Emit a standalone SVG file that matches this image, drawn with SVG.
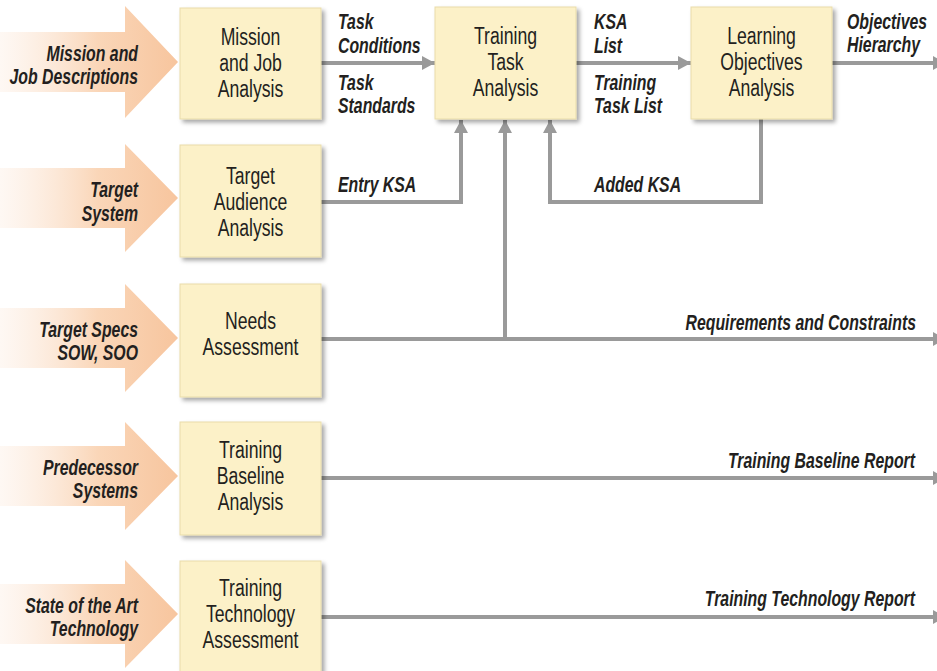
<svg xmlns="http://www.w3.org/2000/svg" width="937" height="671" viewBox="0 0 937 671">
  <defs>
    <linearGradient id="inGrad" gradientUnits="userSpaceOnUse" x1="0" y1="0" x2="178" y2="0">
      <stop offset="0" stop-color="#fdf1e8" stop-opacity="0.5"/>
      <stop offset="0.55" stop-color="#fad6b8"/>
      <stop offset="1" stop-color="#f7c59e"/>
    </linearGradient>
    <filter id="shadow" x="-10%" y="-10%" width="130%" height="130%">
      <feDropShadow dx="3" dy="3" stdDeviation="2" flood-color="#000" flood-opacity="0.35"/>
    </filter>
    <marker id="head" markerUnits="userSpaceOnUse" markerWidth="13" markerHeight="14" refX="13" refY="7" orient="auto">
      <path d="M0,0 L13,7 L0,14 z" fill="#9a9a9a"/>
    </marker>
  </defs>
  <style>
    .box { fill: #fcf1c8; stroke: #e9dcaa; stroke-width: 1; filter: url(#shadow); }
    .in { fill: url(#inGrad); }
    .btxt { font-family: "Liberation Sans", Arial, sans-serif; font-size: 24.5px; fill: #231f20; text-anchor: middle; }
    .lbl { font-family: "Liberation Sans", Arial, sans-serif; font-size: 22px; font-weight: bold; font-style: italic; fill: #231f20; }
    .end { text-anchor: end; }
    .conn { fill: none; stroke: #9a9a9a; stroke-width: 4; }
    .arr { marker-end: url(#head); }
  </style>

  <rect width="937" height="671" fill="#ffffff"/>

  <!-- input arrows on the left -->
  <g id="in-mission">
    <path class="in" d="M0,32 H125 V6 L178,62 L125,118 V92 H0 z"/>
    <text class="lbl end" transform="translate(138,0) scale(0.72,1)"><tspan x="0" y="61">Mission and</tspan><tspan x="0" y="84">Job Descriptions</tspan></text>
  </g>
  <g id="in-target">
    <path class="in" d="M0,168 H125 V144 L178,198 L125,252 V228 H0 z"/>
    <text class="lbl end" transform="translate(138,0) scale(0.72,1)"><tspan x="0" y="197">Target</tspan><tspan x="0" y="221">System</tspan></text>
  </g>
  <g id="in-specs">
    <path class="in" d="M0,308 H125 V284 L178,338 L125,392 V368 H0 z"/>
    <text class="lbl end" transform="translate(138,0) scale(0.72,1)"><tspan x="0" y="337">Target Specs</tspan><tspan x="0" y="360">SOW, SOO</tspan></text>
  </g>
  <g id="in-predecessor">
    <path class="in" d="M0,446 H125 V422 L178,476 L125,530 V506 H0 z"/>
    <text class="lbl end" transform="translate(138,0) scale(0.72,1)"><tspan x="0" y="475">Predecessor</tspan><tspan x="0" y="498">Systems</tspan></text>
  </g>
  <g id="in-state">
    <path class="in" d="M0,584 H125 V560 L178,614 L125,668 V644 H0 z"/>
    <text class="lbl end" transform="translate(138,0) scale(0.72,1)"><tspan x="0" y="613">State of the Art</tspan><tspan x="0" y="636">Technology</tspan></text>
  </g>

  <!-- connectors -->
  <g id="connectors">
    <path class="conn arr" d="M321,63 H435"/>
    <path class="conn arr" d="M576,63 H691"/>
    <path class="conn arr" d="M832,63 H946"/>
    <path class="conn arr" d="M321,202 H461 V120"/>
    <path class="conn arr" d="M505,339 V120"/>
    <path class="conn arr" d="M761,119 V202 H550 V120"/>
    <path class="conn arr" d="M321,339 H946"/>
    <path class="conn arr" d="M321,478 H946"/>
    <path class="conn arr" d="M321,617 H946"/>

    <text class="lbl" transform="translate(338,0) scale(0.72,1)"><tspan x="0" y="29">Task</tspan><tspan x="0" y="53">Conditions</tspan></text>
    <text class="lbl" transform="translate(338,0) scale(0.72,1)"><tspan x="0" y="90">Task</tspan><tspan x="0" y="113">Standards</tspan></text>
    <text class="lbl" transform="translate(594,0) scale(0.72,1)"><tspan x="0" y="29">KSA</tspan><tspan x="0" y="53">List</tspan></text>
    <text class="lbl" transform="translate(594,0) scale(0.72,1)"><tspan x="0" y="90">Training</tspan><tspan x="0" y="113">Task List</tspan></text>
    <text class="lbl" transform="translate(847,0) scale(0.72,1)"><tspan x="0" y="29">Objectives</tspan><tspan x="0" y="52">Hierarchy</tspan></text>
    <text class="lbl" transform="translate(338,0) scale(0.72,1)" y="192">Entry KSA</text>
    <text class="lbl" transform="translate(594,0) scale(0.72,1)" y="192">Added KSA</text>
    <text class="lbl end" transform="translate(916,0) scale(0.72,1)" y="330">Requirements and Constraints</text>
    <text class="lbl end" transform="translate(915,0) scale(0.72,1)" y="468">Training Baseline Report</text>
    <text class="lbl end" transform="translate(915,0) scale(0.72,1)" y="606">Training Technology Report</text>
  </g>

  <!-- process boxes -->
  <g id="mission-job-analysis">
    <rect class="box" x="180" y="8" width="141" height="111"/>
    <text class="btxt" transform="translate(250.5,0) scale(0.72,1)"><tspan x="0" y="45">Mission</tspan><tspan x="0" y="71">and Job</tspan><tspan x="0" y="97">Analysis</tspan></text>
  </g>
  <g id="target-audience-analysis">
    <rect class="box" x="180" y="145" width="141" height="112"/>
    <text class="btxt" transform="translate(250.5,0) scale(0.72,1)"><tspan x="0" y="184">Target</tspan><tspan x="0" y="210">Audience</tspan><tspan x="0" y="236">Analysis</tspan></text>
  </g>
  <g id="needs-assessment">
    <rect class="box" x="180" y="284" width="141" height="113"/>
    <text class="btxt" transform="translate(250.5,0) scale(0.72,1)"><tspan x="0" y="329">Needs</tspan><tspan x="0" y="355">Assessment</tspan></text>
  </g>
  <g id="training-baseline-analysis">
    <rect class="box" x="180" y="422" width="141" height="113"/>
    <text class="btxt" transform="translate(250.5,0) scale(0.72,1)"><tspan x="0" y="458">Training</tspan><tspan x="0" y="484">Baseline</tspan><tspan x="0" y="510">Analysis</tspan></text>
  </g>
  <g id="training-technology-assessment">
    <rect class="box" x="180" y="561" width="141" height="118"/>
    <text class="btxt" transform="translate(250.5,0) scale(0.72,1)"><tspan x="0" y="596">Training</tspan><tspan x="0" y="622">Technology</tspan><tspan x="0" y="648">Assessment</tspan></text>
  </g>
  <g id="training-task-analysis">
    <rect class="box" x="435" y="7" width="141" height="112"/>
    <text class="btxt" transform="translate(505.5,0) scale(0.72,1)"><tspan x="0" y="44">Training</tspan><tspan x="0" y="70">Task</tspan><tspan x="0" y="96">Analysis</tspan></text>
  </g>
  <g id="learning-objectives-analysis">
    <rect class="box" x="691" y="7" width="141" height="112"/>
    <text class="btxt" transform="translate(761.5,0) scale(0.72,1)"><tspan x="0" y="44">Learning</tspan><tspan x="0" y="70">Objectives</tspan><tspan x="0" y="96">Analysis</tspan></text>
  </g>
</svg>
